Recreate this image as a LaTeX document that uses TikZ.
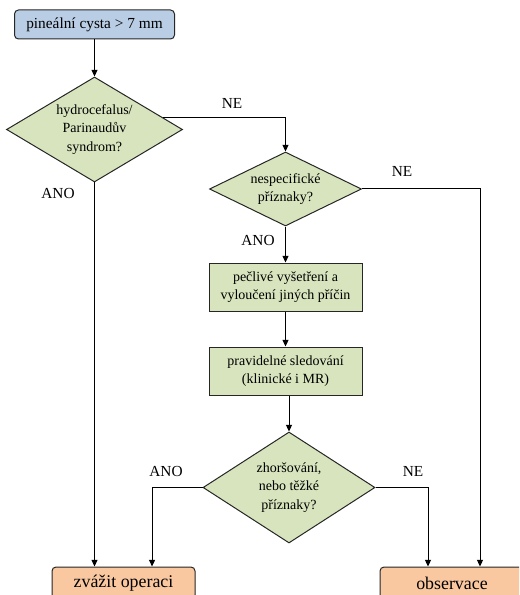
\documentclass[tikz,border=0pt]{standalone}
\usepackage{fontspec}
\setmainfont{Liberation Serif}
\newfontfamily\chartfont{Liberation Serif}
\usetikzlibrary{arrows.meta,shapes.geometric}
\definecolor{StartBlue}{HTML}{B9CDE5}
\definecolor{StepGreen}{HTML}{D7E4BD}
\definecolor{EndOrange}{HTML}{FAC8A0}
\definecolor{Edge}{HTML}{262626}
\tikzset{
  start/.style={draw=Edge,fill=StartBlue,rounded corners=3pt,line width=.75pt,minimum width=120pt,minimum height=21.75pt,font=\chartfont\fontsize{11.5}{13}\selectfont},
  ask/.style={draw=Edge,fill=StepGreen,diamond,inner sep=0pt,line width=.75pt,align=center,font=\chartfont\fontsize{10.5}{14}\selectfont},
  act/.style={draw=Edge,fill=StepGreen,line width=.75pt,minimum width=114.75pt,minimum height=36pt,align=center,font=\chartfont\fontsize{10.5}{13.5}\selectfont},
  stop/.style={draw=Edge,fill=EndOrange,rounded corners=3pt,line width=.75pt,minimum height=24pt,font=\chartfont\fontsize{13.4}{15}\selectfont},
  lbl/.style={font=\chartfont\fontsize{11.5}{13}\selectfont,inner sep=0pt},
  arr/.style={-{Triangle[length=5pt,width=4.5pt]},draw=black,line width=.75pt},
}
\begin{document}
\begin{tikzpicture}[x=.75pt,y=-.75pt]
  \clip (0,0) rectangle (519,595);
  \node[start] (cyst) at (94.5,24.5) {pineální cysta > 7 mm};
  \node[ask,minimum width=132pt,minimum height=78.75pt,aspect=1.68] (hydro) at (94.5,129.5) {hydrocefalus/\\Parinaudův\\syndrom?};
  \node[ask,minimum width=114pt,minimum height=55.5pt,aspect=2.05] (nonspec) at (285.5,189) {nespecifické\\příznaky?};
  \node[act] (exam) at (285.5,287) {pečlivé vyšetření a\\vyloučení jiných příčin};
  \node[act] (follow) at (285.5,371) {pravidelné sledování\\(klinické i MR)};
  \node[ask,minimum width=129pt,minimum height=83.25pt,aspect=1.55] (worse) at (289,487.5) {zhoršování,\\nebo těžké\\příznaky?};
  \node[stop,minimum width=107.25pt] (surgery) at (123.5,583) {zvážit operaci};
  \node[stop,minimum width=108pt] (observe) at (452,583) {observace};

  \node[lbl] (hydrono) at (232,103) {NE};
  \node[lbl] (hydroyes) at (58,193) {ANO};
  \node[lbl] (nonspecno) at (402,171) {NE};
  \node[lbl] (nonspecyes) at (258,240) {ANO};
  \node[lbl] (worseyes) at (166,471) {ANO};
  \node[lbl] (worseno) at (413,471) {NE};

  \draw[arr] (cyst) -- (hydro);
  \draw[arr] (hydro.10) -| (nonspec.north);
  \draw[arr] (hydro.south) -- (hydro.south |- surgery.north);
  \draw[arr] (nonspec.east) -| ([xshift=21pt]observe.north);
  \draw[arr] (nonspec) -- (exam);
  \draw[arr] (exam) -- (follow);
  \draw[arr] (follow.south -| worse.north) -- (worse.north);
  \draw[arr] (worse.west) -| ([xshift=21.4pt]surgery.north);
  \draw[arr] (worse.east) -| ([xshift=-18pt]observe.north);
\end{tikzpicture}
\end{document}
